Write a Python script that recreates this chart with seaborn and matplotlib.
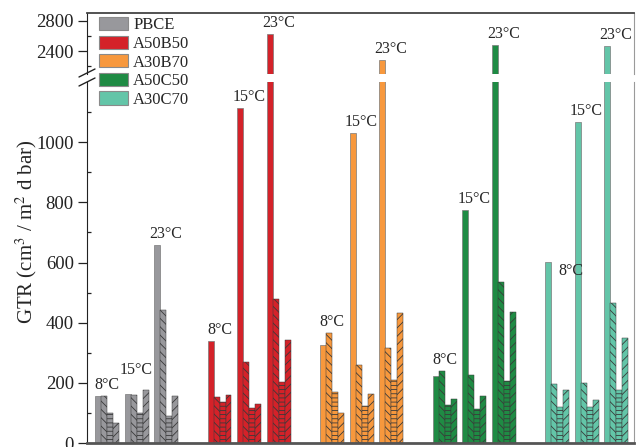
import numpy as np
import pandas as pd
import matplotlib
matplotlib.use("Agg")
import matplotlib.pyplot as plt
from matplotlib.patches import Patch
from matplotlib.lines import Line2D
import seaborn as sns

# ---------------- data ----------------
materials = ["PBCE", "A50B50", "A30B70", "A50C50", "A30C70"]
temps = ["8°C", "15°C", "23°C"]
colors = ["#98989c", "#d42229", "#f7983d", "#1f8b44", "#63c5a8"]

pbce = [[157, 157, 100, 65], [162, 160, 100, 176], [658, 442, 89, 157]]
a50b50 = [[339, 154, 136, 161], [1114, 270, 117, 128], [2630, 479, 204, 343]]
a30b70 = [[326, 365, 169, 99], [1031, 258, 123, 163], [2280, 317, 210, 431]]
a50c50 = [[224, 239, 126, 146], [775, 227, 112, 155], [2480, 535, 207, 437]]
a30c70 = [[602, 196, 119, 176], [1068, 200, 119, 143], [2470, 466, 176, 348]]
values = [pbce, a50b50, a30b70, a50c50, a30c70]

lower_ticks = [0, 200, 400, 600, 800, 1000]
upper_ticks = [2400, 2800]

# ---------------- layout ----------------
GROUP_STEP = 112.5 / 29.5
WIDTH = 24 / 29.5
hatches = ["", "\\\\\\\\", "----", "////"]
# label offsets (points) per (material, temp)
label_off = {(0, 1): (0, 9), (4, 0): (10, -12)}

rows = []
for mi, m in enumerate(materials):
    for ti, t in enumerate(temps):
        for k in range(4):
            rows.append(dict(material=m, mi=mi, temp=t, ti=ti, k=f"b{k}",
                             pos=mi * GROUP_STEP + ti, value=values[mi][ti][k]))
df = pd.DataFrame(rows)

sns.set_style("ticks")
plt.rcParams["font.family"] = ["Liberation Serif", "DejaVu Serif"]
plt.rcParams["mathtext.fontset"] = "stix"
plt.rcParams["hatch.linewidth"] = 0.6

W, H = 636, 447
fig = plt.figure(figsize=(W / 100, H / 100), dpi=100)
L, R = 87, 634
ax_lo = fig.add_axes([L / W, 1 - 443 / H, (R - L) / W, (443 - 82) / H])
ax_up = fig.add_axes([L / W, 1 - 74 / H, (R - L) / W, (74 - 13) / H])

for ax in (ax_lo, ax_up):
    for mi, m in enumerate(materials):
        sub = df[df.mi == mi]
        n0 = len(ax.patches)
        sns.barplot(data=sub, x="pos", y="value", hue="k", native_scale=True,
                    width=WIDTH, dodge=True, palette=[colors[mi]] * 4,
                    saturation=1, errorbar=None, legend=False, ax=ax,
                    edgecolor="#7a7a7a", linewidth=0.5)
        new = sorted(ax.patches[n0:], key=lambda p: p.get_x())
        for i, p in enumerate(new):
            h = hatches[i % 4]
            if h:
                p.set_hatch(h)
                p.set_edgecolor("#3a3a3a")
                p.set_linewidth(0.35)
    ax.set_xlim((87 - 107) / 29.5, (634 - 107) / 29.5)
    ax.set_xlabel("")
    ax.set_ylabel("")
    ax.set_xticks([])

ax_lo.set_ylim(0, 1200)
ax_up.set_ylim(2100, 2900)
ax_lo.set_yticks(lower_ticks)
ax_lo.set_yticks(np.arange(100, 1200, 200), minor=True)
ax_up.set_yticks(upper_ticks)
ax_up.set_yticks([2200, 2600], minor=True)

for ax in (ax_lo, ax_up):
    ax.tick_params(axis="y", which="major", direction="out", length=6.5,
                   width=0.9, labelsize=13.5, pad=3, colors="#222222")
    ax.tick_params(axis="y", which="minor", direction="in", length=3,
                   width=0.9, colors="#222222")
    ax.tick_params(axis="x", length=0)
    ax.spines["left"].set_color("#222222")
    ax.spines["right"].set_color("#9a9a9a")

ax_lo.spines["top"].set_visible(False)
ax_lo.spines["bottom"].set_color("#555555")
ax_lo.spines["bottom"].set_linewidth(2)
ax_up.spines["bottom"].set_visible(False)
ax_up.spines["top"].set_color("#444444")
ax_up.spines["top"].set_linewidth(1.3)

# temperature labels
for mi in range(len(materials)):
    for ti, t in enumerate(temps):
        vals = values[mi][ti]
        cx = mi * GROUP_STEP + ti
        dx, dy = label_off.get((mi, ti), (0, 2))
        if vals[0] > 1200:
            target, y = ax_up, vals[0]
        else:
            target, y = ax_lo, max(vals)
        target.annotate(t, xy=(cx, y), xytext=(dx, dy), textcoords="offset points",
                        ha="center", va="bottom", fontsize=11.5, annotation_clip=False)

ax_lo.set_ylabel("GTR (cm$^{3}$ / m$^{2}$ d bar)", fontsize=15)
ax_lo.yaxis.set_label_coords(-0.088, 0.585, transform=ax_lo.transAxes)

# break marks
def fy(y):
    return 1 - y / H
for y0 in (77, 86):
    fig.add_artist(Line2D([79 / W, 95 / W], [fy(y0), fy(y0 - 8)], color="#222222", lw=1,
                          transform=fig.transFigure))

handles = [Patch(facecolor=c, edgecolor="#8a8a8a", linewidth=0.8, label=m)
           for m, c in zip(materials, colors)]
fig.legend(handles=handles, loc="upper left", bbox_to_anchor=(99 / W, fy(17)),
           frameon=False, fontsize=12, handlelength=1.75, handleheight=0.85,
           handletextpad=0.3, labelspacing=0.13, borderpad=0, borderaxespad=0)

fig.savefig("out.png", dpi=100)
